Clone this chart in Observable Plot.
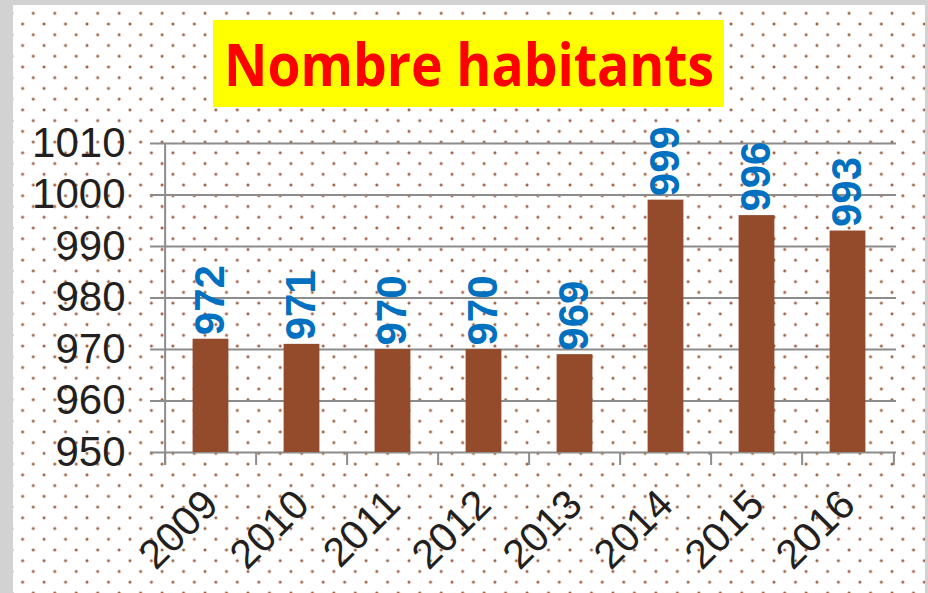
<!DOCTYPE html>
<html>
<head>
<meta charset="utf-8">
<script src="https://cdn.jsdelivr.net/npm/d3@7"></script>
<script src="https://cdn.jsdelivr.net/npm/@observablehq/plot@0.6"></script>
<style>
  html, body { margin: 0; padding: 0; }
  body { width: 928px; height: 593px; position: relative; overflow: hidden;
         background: #d2d2d2; font-family: "Liberation Sans", Arial, sans-serif; }
  #paper { position: absolute; left: 13px; top: 5px; width: 912px; height: 588px;
    background-color: #ffffff;
    background-image:
      radial-gradient(circle at center, #a0603e 0, #a0603e 0.9px, rgba(170,110,80,0.45) 1.5px, rgba(255,255,255,0) 2.1px),
      radial-gradient(circle at center, #a0603e 0, #a0603e 0.9px, rgba(170,110,80,0.45) 1.5px, rgba(255,255,255,0) 2.1px);
    background-size: 21.48px 21.48px, 21.48px 21.48px;
    background-position: 9.56px -2.44px, -1.14px 8.31px;
  }
  #chart { position: absolute; left: 0; top: 0; }
  #title { position: absolute; left: 213px; top: 20px; width: 511px; height: 87px; overflow: visible; }
</style>
</head>
<body>
<div id="paper"></div>
<div id="chart"></div>
<svg id="title" width="511" height="87" viewBox="0 0 511 87" overflow="visible">
  <rect x="0" y="0" width="511" height="87" fill="#ffff00"></rect>
  <text x="11" y="65.5" fill="#ff0000" font-family="'Open Sans', sans-serif" font-weight="bold" font-size="59" textLength="490" lengthAdjust="spacingAndGlyphs">Nombre habitants</text>
</svg>
<script>
const years = ["2009", "2010", "2011", "2012", "2013", "2014", "2015", "2016"];
const population = [972, 971, 970, 970, 969, 999, 996, 993];
const yTicks = [950, 960, 970, 980, 990, 1000, 1010];

const data = years.map((year, i) => ({year, value: population[i]}));
const yMin = yTicks[0], yMax = yTicks[yTicks.length - 1];

const W = 928, H = 593, mL = 162, mR = 32, mT = 143, mB = 141;
const step = (W - mL - mR) / years.length;
const lineColor = "#8c8c8c";
const textColor = "#231f20";

const chart = Plot.plot({
  width: W, height: H,
  marginTop: mT, marginBottom: mB, marginLeft: mL, marginRight: mR,
  style: {background: "transparent", fontFamily: "'Liberation Sans', Arial, sans-serif", overflow: "visible"},
  x: {domain: years, padding: 0, label: null},
  y: {domain: [yMin, yMax], label: null},
  marks: [
    Plot.ruleY(yTicks, {stroke: lineColor, strokeWidth: 2, insetLeft: -12}),
    Plot.barY(data, {x: "year", y1: () => yMin, y2: "value", fill: "#944b2c", insetLeft: 27.6, insetRight: 27.6}),
    Plot.ruleX([years[0]], {x: d => d, y1: () => yMax, y2: () => yMin, insetBottom: -13, dx: -step / 2, stroke: lineColor, strokeWidth: 2}),
    Plot.ruleX(years, {x: d => d, y1: () => yMin, y2: () => yMin, insetBottom: -13, dx: -step / 2, stroke: lineColor, strokeWidth: 2}),
    Plot.ruleX([years[years.length - 1]], {x: d => d, y1: () => yMin, y2: () => yMin, insetBottom: -13, dx: step / 2, stroke: lineColor, strokeWidth: 2}),
    Plot.text(data, {x: "year", y: "value", text: d => String(d.value), rotate: -90, textAnchor: "start", dy: -4,
      fill: "#0070c0", fontWeight: "bold", fontSize: 42}),
    Plot.axisY({ticks: yTicks, tickSize: 0, tickPadding: 37, fontSize: 42, fill: textColor, tickFormat: d => String(d)}),
    Plot.axisX({tickSize: 0, tickRotate: -45, tickPadding: 45, fontSize: 41, fill: textColor})
  ]
});
document.getElementById("chart").appendChild(chart);
</script>
</body>
</html>
